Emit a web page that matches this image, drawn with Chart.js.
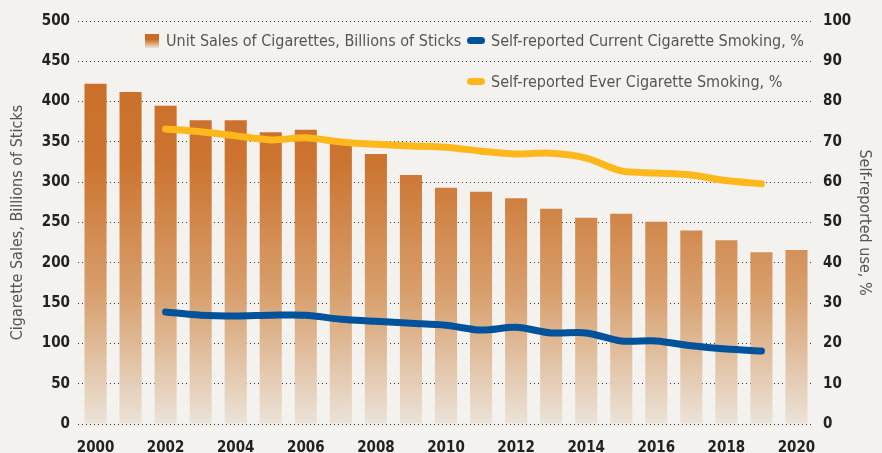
<!DOCTYPE html>
<html>
<head>
<meta charset="utf-8">
<script src="https://cdn.jsdelivr.net/npm/chart.js@4/dist/chart.umd.min.js"></script>
<style>
  html, body { margin: 0; padding: 0; background: #f4f2ee; }
  #wrap { position: relative; width: 882px; height: 453px; }
  #legend { position: absolute; left: 0; top: 0; font-family: 'Liberation Sans Narrow', 'DejaVu Sans Condensed', sans-serif; font-size: 16px; color: #555; }
  .item { position: absolute; white-space: nowrap; display: flex; align-items: center; }
  .sw-bar { width: 14px; height: 14px; margin-right: 7px; background: linear-gradient(#c96d26 40%, #ede4d8); }
  .sw-line { width: 18px; height: 7px; border-radius: 4px; margin-right: 6px; }
</style>
</head>
<body>
<div id="wrap">
  <canvas id="chart" width="882" height="453"></canvas>
  <div id="legend">
    <div class="item" style="left:145px; top:31px;"><span class="sw-bar"></span>Unit Sales of Cigarettes, Billions of Sticks</div>
    <div class="item" style="left:467px; top:31px;"><span class="sw-line" style="background:#00529b"></span>Self-reported Current Cigarette Smoking, %</div>
    <div class="item" style="left:467px; top:72px;"><span class="sw-line" style="background:#ffb81c"></span>Self-reported Ever Cigarette Smoking, %</div>
  </div>
</div>
<script>
// Years on the X-axis
const years = ["2000", "2001", "2002", "2003", "2004", "2005", "2006", "2007", "2008", "2009", "2010",
  "2011", "2012", "2013", "2014", "2015", "2016", "2017", "2018", "2019", "2020"];

// Unit sales, billions of sticks (left axis)
const sales = [422, 412, 395, 377, 377, 362, 365, 351, 335, 309, 293, 288, 280, 267, 256, 261, 251, 240, 228, 213, 216];

// Self-reported smoking, % (right axis), survey starts in 2002
const currentSmoking = [null, null, 27.8, 27.0, 26.8, 27.0, 27.0, 26.0, 25.5, 25.0, 24.5, 23.3, 24.0, 22.6, 22.6, 20.6, 20.6, 19.4, 18.6, 18.1, null];
const everSmoking = [null, null, 73.2, 72.5, 71.5, 70.5, 71.0, 70.0, 69.4, 69.0, 68.7, 67.7, 67.0, 67.2, 66.0, 62.8, 62.3, 61.8, 60.4, 59.6, null];

const FONT = "'Liberation Sans Narrow', 'DejaVu Sans Condensed', sans-serif";

// Bars fade from orange at the top to the background at the bottom
function barGradient(context) {
  const area = context.chart.chartArea;
  if (!area) return "#c96d26";
  const g = context.chart.ctx.createLinearGradient(0, area.top, 0, area.bottom);
  g.addColorStop(0, "#c96d26");
  g.addColorStop(0.35, "#cc7430");
  g.addColorStop(0.68, "#d8a06e");
  g.addColorStop(1, "#ebe3d8");
  return g;
}

const gridOpts = { color: "#333", lineWidth: 1, drawTicks: false };
const borderOpts = { display: false, dash: [1, 3] };

const config = {
  type: "bar",
  data: {
    labels: years,
    datasets: [
      {
        type: "line",
        label: "Self-reported Current Cigarette Smoking, %",
        data: currentSmoking,
        yAxisID: "y1",
        borderColor: "#00529b",
        borderWidth: 7,
        borderCapStyle: "round",
        tension: 0.3,
        pointRadius: 0,
        order: 0,
      },
      {
        type: "line",
        label: "Self-reported Ever Cigarette Smoking, %",
        data: everSmoking,
        yAxisID: "y1",
        borderColor: "#ffb81c",
        borderWidth: 7,
        borderCapStyle: "round",
        tension: 0.3,
        pointRadius: 0,
        order: 0,
      },
      {
        label: "Unit Sales of Cigarettes, Billions of Sticks",
        data: sales,
        yAxisID: "y",
        backgroundColor: barGradient,
        barPercentage: 0.63,
        categoryPercentage: 1,
        order: 1,
      },
    ],
  },
  options: {
    responsive: false,
    animation: false,
    layout: { padding: { top: 21, left: 0, right: 0, bottom: 0 } },
    plugins: { legend: { display: false }, tooltip: { enabled: false } },
    scales: {
      x: {
        grid: { display: false },
        border: { display: false },
        afterFit: (s) => { s.height = 29; },
        ticks: {
          autoSkip: false,
          maxRotation: 0,
          padding: 7,
          color: "#222",
          font: { family: FONT, size: 15, weight: "bold" },
          callback: (v, i) => (i % 2 === 0 ? years[i] : ""),
        },
      },
      y: {
        position: "left",
        min: 0,
        max: 500,
        afterFit: (s) => { s.width = 78; },
        ticks: { stepSize: 50, padding: 8, color: "#222", font: { family: FONT, size: 15, weight: "bold" } },
        grid: gridOpts,
        border: borderOpts,
        title: { display: true, text: "Cigarette Sales, Billions of Sticks", color: "#555", font: { family: FONT, size: 16 }, padding: { top: 8, bottom: 8 } },
      },
      y1: {
        position: "right",
        min: 0,
        max: 100,
        afterFit: (s) => { s.width = 68; },
        ticks: { stepSize: 10, padding: 1, color: "#222", font: { family: FONT, size: 15, weight: "bold" } },
        grid: { display: false },
        border: { display: false },
        title: { display: true, text: "Self-reported use, %", color: "#555", font: { family: FONT, size: 16 }, padding: { top: 8, bottom: -5 } },
      },
    },
  },
};

new Chart(document.getElementById("chart").getContext("2d"), config);
</script>
</body>
</html>
